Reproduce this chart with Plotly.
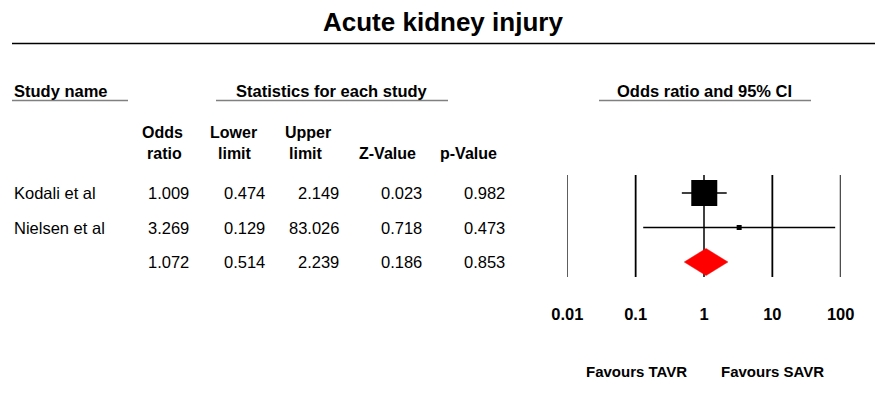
import plotly.graph_objects as go

# ---------------- data ----------------
studies = ["Kodali et al", "Nielsen et al", ""]
odds_ratio = [1.009, 3.269, 1.072]
lower_limit = [0.474, 0.129, 0.514]
upper_limit = [2.149, 83.026, 2.239]
z_value = [0.023, 0.718, 0.186]
p_value = [0.982, 0.473, 0.853]
tick_vals = [0.01, 0.1, 1, 10, 100]
tick_text = ["0.01", "0.1", "1", "10", "100"]

W, H = 878, 420
FONT = "Liberation Sans, Arial, sans-serif"
ROW0, ROWSTEP = 193.0, 34.5
row_y = [ROW0 + ROWSTEP * i for i in range(len(studies))]


def px(x):
    return x / W


fig = go.Figure()

# individual studies: squares with CI lines
n_ind = 2
fig.add_trace(go.Scatter(
    x=odds_ratio[:n_ind], y=row_y[:n_ind], mode="markers",
    marker=dict(symbol="square", size=[26, 5], color="black", opacity=1, line=dict(width=0)),
    error_x=dict(type="data", symmetric=False,
                 array=[u - o for u, o in zip(upper_limit[:n_ind], odds_ratio[:n_ind])],
                 arrayminus=[o - l for o, l in zip(odds_ratio[:n_ind], lower_limit[:n_ind])],
                 color="black", thickness=1.5, width=0),
    hoverinfo="skip", showlegend=False))

# summary diamond
half = 13.5
s = 2
fig.add_trace(go.Scatter(
    x=[lower_limit[s], odds_ratio[s], upper_limit[s], odds_ratio[s], lower_limit[s]],
    y=[row_y[s], row_y[s] - half, row_y[s], row_y[s] + half, row_y[s]],
    mode="lines", fill="toself", fillcolor="#ff0000",
    line=dict(color="#ff0000", width=0.5),
    hoverinfo="skip", showlegend=False))

shapes = []
# vertical reference lines at decades
for tv, lw in zip(tick_vals, [1.2, 1.8, 1.5, 1.8, 1.8]):
    shapes.append(dict(type="line", xref="x", yref="y", x0=tv, x1=tv, y0=175, y1=277,
                       line=dict(color="black", width=lw), layer="below"))
# rule under title
shapes.append(dict(type="line", xref="paper", yref="y", x0=px(12), x1=px(875), y0=43.5, y1=43.5,
                   line=dict(color="black", width=1.5)))
# header underlines
for a, b in [(12, 128), (216, 448), (599, 811)]:
    shapes.append(dict(type="line", xref="paper", yref="y", x0=px(a), x1=px(b), y0=100.5, y1=100.5,
                       line=dict(color="#808080", width=1.5)))

ann = []


def text(x, y, t, size=16, bold=False, anchor="center"):
    ann.append(dict(x=px(x), y=y, xref="paper", yref="y", text=t, showarrow=False,
                    xanchor=anchor, yanchor="middle",
                    font=dict(family=FONT, size=size, color="black",
                              weight="bold" if bold else "normal")))


text(443, 22, "Acute kidney injury", size=26, bold=True)
text(12, 91, "Study name", size=16.5, bold=True, anchor="left")
text(332, 91, "Statistics for each study", size=16.5, bold=True)
text(704, 91, "Odds ratio and 95% CI", size=16.5, bold=True)

# column headers
text(162, 132, "Odds", bold=True)
text(164, 153, "ratio", bold=True)
text(233, 132, "Lower", bold=True)
text(235, 153, "limit", bold=True)
text(308, 132, "Upper", bold=True)
text(306, 153, "limit", bold=True)
text(387, 153, "Z-Value", bold=True)
text(469, 153, "p-Value", bold=True)

col_right = [191, 267, 341, 423.5, 507]
cols = [odds_ratio, lower_limit, upper_limit, z_value, p_value]
for i, name in enumerate(studies):
    if name:
        text(12, row_y[i], name, size=16.5, anchor="left")
    for cx, col in zip(col_right, cols):
        text(cx, row_y[i], f"{col[i]:.3f}", size=16.5, anchor="right")

text(636, 371, "Favours TAVR", size=15, bold=True)
text(772, 371, "Favours SAVR", size=15, bold=True)

fig.update_layout(
    width=W, height=H, autosize=False,
    margin=dict(l=0, r=0, t=0, b=0, pad=0, autoexpand=False),
    paper_bgcolor="white", plot_bgcolor="rgba(0,0,0,0)",
    shapes=shapes, annotations=ann,
    xaxis=dict(type="log", range=[-2, 2], domain=[567.3 / W, 840.7 / W],
               anchor="free", position=(H - 302) / H, automargin=False,
               showgrid=False, zeroline=False, showline=False, ticks="",
               tickvals=tick_vals, ticktext=tick_text,
               tickfont=dict(family=FONT, size=16.5, color="black", weight="bold")),
    yaxis=dict(range=[H, 0], domain=[0, 1], visible=False, showgrid=False,
               zeroline=False, automargin=False),
)

fig.write_html(
    "out.html",
    config={"responsive": False, "displayModeBar": False},
    post_script="document.body.style.margin='0px';document.body.style.overflow='hidden';",
)
